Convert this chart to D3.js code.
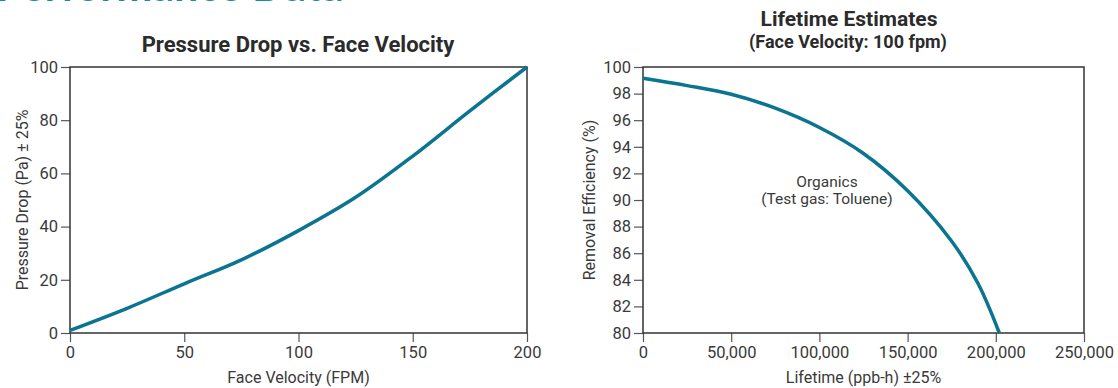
<!DOCTYPE html>
<html>
<head>
<meta charset="utf-8">
<script src="https://cdn.jsdelivr.net/npm/d3@7"></script>
<style>
  body { margin: 0; background: #fff; }
  svg { display: block; }
  .tick text { fill: #3a3a3a; }
</style>
</head>
<body>
<div id="chart"></div>
<script>
// pressure drop chart
var velocity = [0, 25, 50, 75, 100, 125, 150, 175, 200];
var pressure = [1, 9.3, 18.5, 27.5, 38.5, 51, 66.5, 83.5, 100];
var pressureTicks = [0, 20, 40, 60, 80, 100];
var velocityTicks = [0, 50, 100, 150, 200];

// lifetime chart
var lifetime = [0, 25000, 50000, 75000, 100000, 125000, 150000, 175000, 190000, 202000];
var efficiency = [99.15, 98.6, 97.95, 96.9, 95.45, 93.5, 90.7, 86.9, 83.7, 80];
var efficiencyTicks = [80, 82, 84, 86, 88, 90, 92, 94, 96, 98, 100];
var lifetimeTicks = [0, 50000, 100000, 150000, 200000, 250000];

var W = 1118, H = 388;
var lineColor = "#0b7490";
var frameColor = "#333";
var font = "Roboto, sans-serif";

var svg = d3.select("#chart").append("svg")
  .attr("width", W)
  .attr("height", H)
  .style("font-family", font);

// cut-off page heading
svg.append("text")
  .attr("x", -4)
  .attr("y", 1)
  .attr("fill", "#1a8aa8")
  .style("font-family", "Lato, sans-serif")
  .style("font-weight", "bold")
  .style("font-size", "43px")
  .text("Performance Data");

function panel(opt) {
  var g = svg.append("g")
    .attr("transform", "translate(" + opt.left + "," + opt.top + ")");

  var x = d3.scaleLinear().domain(opt.xDomain).range([0, opt.width]);
  var y = d3.scaleLinear().domain(opt.yDomain).range([opt.height, 0]);

  var xAxis = g.append("g")
    .attr("transform", "translate(0," + opt.height + ")")
    .call(d3.axisBottom(x).tickValues(opt.xTicks).tickSize(9).tickSizeOuter(0).tickPadding(4).tickFormat(opt.xFormat));
  var yAxis = g.append("g")
    .call(d3.axisLeft(y).tickValues(opt.yTicks).tickSize(9).tickSizeOuter(0).tickPadding(3));

  [xAxis, yAxis].forEach(function (a) {
    a.select(".domain").remove();
    a.selectAll(".tick line").attr("stroke", "#555").attr("stroke-width", 1.2);
    a.selectAll(".tick text").style("font-size", "16.5px").style("font-family", font);
  });

  g.append("rect")
    .attr("width", opt.width)
    .attr("height", opt.height)
    .attr("fill", "none")
    .attr("stroke", frameColor)
    .attr("stroke-width", 1.5);

  var pts = opt.xs.map(function (d, i) { return [d, opt.ys[i]]; });
  var line = d3.line()
    .x(function (d) { return x(d[0]); })
    .y(function (d) { return y(d[1]); })
    .curve(d3.curveCatmullRom.alpha(0.5));

  g.append("path")
    .datum(pts)
    .attr("d", line)
    .attr("fill", "none")
    .attr("stroke", lineColor)
    .attr("stroke-width", 3.5)
    .attr("stroke-linecap", "butt");

  // axis titles
  g.append("text")
    .attr("x", opt.width / 2)
    .attr("y", opt.height + 50)
    .attr("text-anchor", "middle")
    .attr("fill", "#3a3a3a")
    .style("font-size", "16px")
    .text(opt.xLabel);

  g.append("text")
    .attr("transform", "translate(" + opt.yLabelX + "," + (opt.height / 2) + ") rotate(-90)")
    .attr("text-anchor", "middle")
    .attr("fill", "#3a3a3a")
    .style("font-size", "16px")
    .text(opt.yLabel);

  return { g: g, x: x, y: y };
}

var left = panel({
  left: 70, top: 67, width: 457, height: 266,
  xDomain: [0, 200], yDomain: [0, 100],
  xTicks: velocityTicks, yTicks: pressureTicks,
  xFormat: d3.format("d"),
  xs: velocity, ys: pressure,
  xLabel: "Face Velocity (FPM)",
  yLabel: "Pressure Drop (Pa) \u00b1 25%",
  yLabelX: -42
});

var right = panel({
  left: 643, top: 67, width: 441, height: 266,
  xDomain: [0, 250000], yDomain: [80, 100],
  xTicks: lifetimeTicks, yTicks: efficiencyTicks,
  xFormat: d3.format(","),
  xs: lifetime, ys: efficiency,
  xLabel: "Lifetime (ppb-h) \u00b125%",
  yLabel: "Removal Efficiency (%)",
  yLabelX: -48
});

// chart titles
svg.append("text")
  .attr("x", 298).attr("y", 52)
  .attr("text-anchor", "middle")
  .attr("fill", "#2b2b2b")
  .style("font-size", "22px").style("font-weight", "bold")
  .text("Pressure Drop vs. Face Velocity");

svg.append("text")
  .attr("x", 849).attr("y", 26)
  .attr("text-anchor", "middle")
  .attr("fill", "#2b2b2b")
  .style("font-size", "21px").style("font-weight", "bold")
  .text("Lifetime Estimates");

svg.append("text")
  .attr("x", 848).attr("y", 48)
  .attr("text-anchor", "middle")
  .attr("fill", "#2b2b2b")
  .style("font-size", "18px").style("font-weight", "bold")
  .text("(Face Velocity: 100 fpm)");

// annotation inside the lifetime chart
var note = right.g.append("text")
  .attr("text-anchor", "middle")
  .attr("fill", "#3a3a3a")
  .style("font-size", "15.5px");
note.append("tspan")
  .attr("x", right.x(104300)).attr("y", right.y(90.95))
  .text("Organics");
note.append("tspan")
  .attr("x", right.x(104300)).attr("y", right.y(89.7))
  .text("(Test gas: Toluene)");
</script>
</body>
</html>
